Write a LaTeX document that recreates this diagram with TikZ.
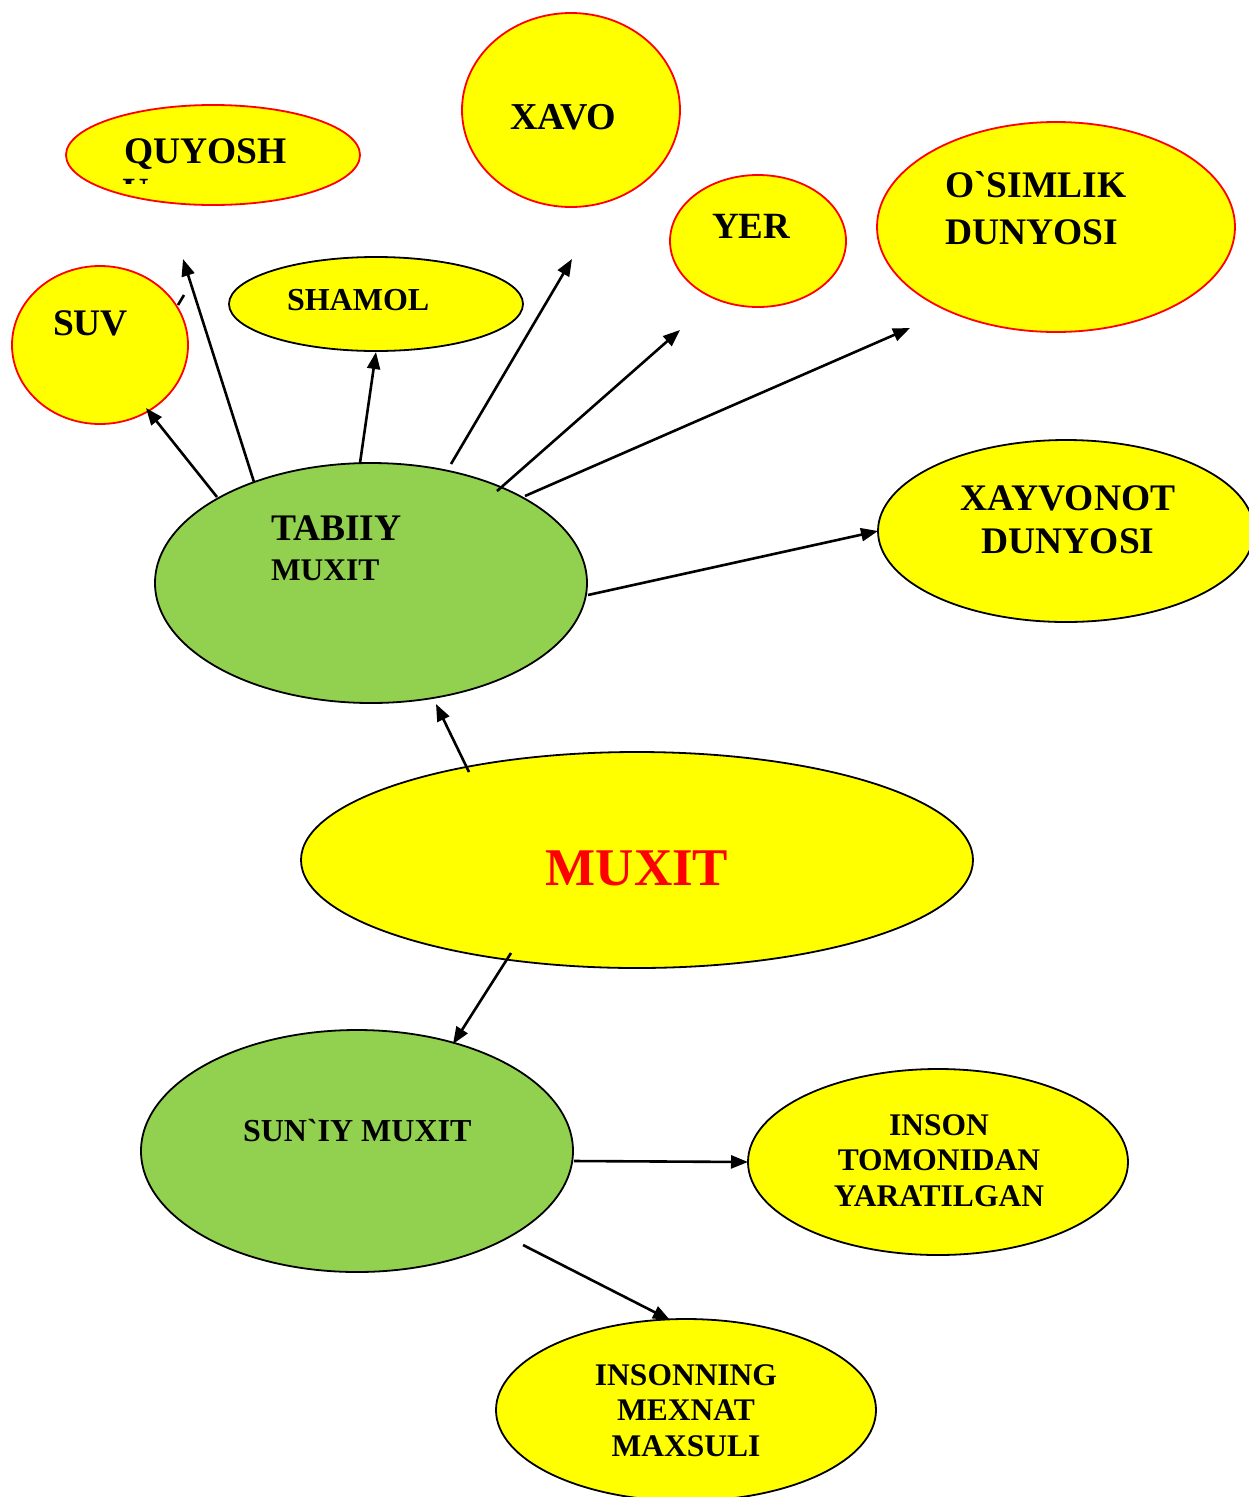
\documentclass[tikz,border=0pt]{standalone}
\usepackage{fontspec}
\setmainfont{Liberation Serif}[Ligatures=TeXOff]
\usetikzlibrary{shapes.geometric,arrows.meta}
\definecolor{fillyellow}{HTML}{FFFF00}
\definecolor{fillgreen}{HTML}{92D050}
\newcommand\fsz[1]{\fontsize{#1}{#1}\selectfont}
\begin{document}
\begin{tikzpicture}[x=1pt,y=-1pt,
  bubble/.style={ellipse, draw=black, line width=1.8pt, fill=fillyellow,
                 inner sep=0pt, outer sep=0pt},
  redbubble/.style={bubble, draw=red},
  greenbubble/.style={bubble, fill=fillgreen},
  lbl/.style={inner sep=0pt, outer sep=0pt, font=\bfseries},
  link/.style={line width=2.6pt, -{Triangle[length=17pt,width=13pt]}},
]
\useasboundingbox (0,0) rectangle (1248,1497);

% ---- ellipses ----
\node[redbubble, minimum width=294, minimum height=100] (quyosh) at (213,155) {};
\node[redbubble, minimum width=218, minimum height=194] (xavo) at (571,110) {};
\node[redbubble, minimum width=176, minimum height=132] (yer) at (758,241) {};
\node[redbubble, minimum width=358, minimum height=210] (osimlik) at (1056,227) {};
\node[redbubble, minimum width=176, minimum height=158] (suv) at (100,345) {};
\node[bubble, minimum width=294, minimum height=94] (shamol) at (376,304) {};
\node[greenbubble, minimum width=432, minimum height=240] (tabiiy) at (371,583) {};
\node[bubble, minimum width=376, minimum height=182] (xayvonot) at (1066,531) {};
\node[bubble, minimum width=672, minimum height=216] (muxit) at (637,860) {};
\node[greenbubble, minimum width=432, minimum height=242] (suniy) at (357,1151) {};
\node[bubble, minimum width=380, minimum height=186] (inson) at (938,1162) {};
\node[bubble, minimum width=380, minimum height=182] (mexnat) at (686,1410) {};

% ---- labels ----
\node[lbl, anchor=base west] (tquyosh) at (124,163) {\fsz{37.5}QUYOSH};
\begin{scope}
  \clip (118,177) rectangle (160,183.5);
  \node[lbl, anchor=base west] (tquyoshcut) at (122,203) {\fsz{37}U};
\end{scope}
\node[lbl, anchor=base west] (tsuv) at (53,335) {\fsz{37.5}SUV};
\node[lbl, anchor=base west] (tshamol) at (287,310) {\fsz{32}SHAMOL};
\node[lbl, anchor=base west] (txavo) at (510,129) {\fsz{38}XAVO};
\node[lbl, anchor=base west] (tyer) at (712,238) {\fsz{37}YER};
\node[lbl, anchor=base west] (tosim1) at (945,197) {\fsz{37.5}O`SIMLIK};
\node[lbl, anchor=base west] (tosim2) at (945,244) {\fsz{37.5}DUNYOSI};
\node[lbl, anchor=base west] (ttab1) at (271,540) {\fsz{37.5}TABIIY};
\node[lbl, anchor=base west] (ttab2) at (271,580) {\fsz{31.5}MUXIT};
\node[lbl, anchor=base] (txay1) at (1068,510) {\fsz{37.5}XAYVONOT};
\node[lbl, anchor=base] (txay2) at (1068,553) {\fsz{37.5}DUNYOSI};
\node[lbl, anchor=base, text=red] (tmuxit) at (637,885) {\fsz{53}MUXIT};
\node[lbl, anchor=base west] (tsuniy) at (243,1141) {\fsz{32}SUN`IY MUXIT};
\node[lbl, anchor=base] (tins1) at (939,1135) {\fsz{31.5}INSON};
\node[lbl, anchor=base] (tins2) at (939,1170) {\fsz{31.5}TOMONIDAN};
\node[lbl, anchor=base] (tins3) at (939,1206) {\fsz{31.5}YARATILGAN};
\node[lbl, anchor=base] (tmex1) at (686,1385) {\fsz{31.5}INSONNING};
\node[lbl, anchor=base] (tmex2) at (686,1420) {\fsz{31.5}MEXNAT};
\node[lbl, anchor=base] (tmex3) at (686,1456) {\fsz{31.5}MAXSULI};

% ---- connector end points ----
\coordinate (aSuvS) at (217,497);   \coordinate (aSuvE) at (146,408);
\coordinate (aQuyS) at (254,482);   \coordinate (aQuyE) at (183,259);
\coordinate (aShaS) at (360,463);   \coordinate (aShaE) at (376,352);
\coordinate (aXavS) at (451,464);   \coordinate (aXavE) at (572,259);
\coordinate (aYerS) at (497,491);   \coordinate (aYerE) at (680,330);
\coordinate (aOsiS) at (525,496);   \coordinate (aOsiE) at (910,328);
\coordinate (aXaySt) at (588,595);
\coordinate (aTabS) at (469,772);   \coordinate (aTabE) at (436,704);
\coordinate (aSunS) at (511,953);   \coordinate (aSunE) at (453,1044);
\coordinate (aInsS) at (574,1161);
\coordinate (aMexS) at (523,1245);  \coordinate (aMexE) at (670,1320);
\coordinate (stubA) at (178,305);   \coordinate (stubB) at (184,295);

% ---- connectors ----
\draw[link] (aSuvS) -- (aSuvE);
\draw[link] (aQuyS) -- (aQuyE);
\draw[link] (aShaS) -- (aShaE);
\draw[link] (aXavS) -- (aXavE);
\draw[link] (aYerS) -- (aYerE);
\draw[link] (aOsiS) -- (aOsiE);
\draw[link] (aXaySt) -- (xayvonot.west);
\draw[link] (aTabS) -- (aTabE);
\draw[link] (aSunS) -- (aSunE);
\draw[link] (aInsS) -- (inson.west);
\draw[link] (aMexS) -- (aMexE);
\draw[line width=2.6pt] (stubA) -- (stubB);
\end{tikzpicture}
\end{document}
